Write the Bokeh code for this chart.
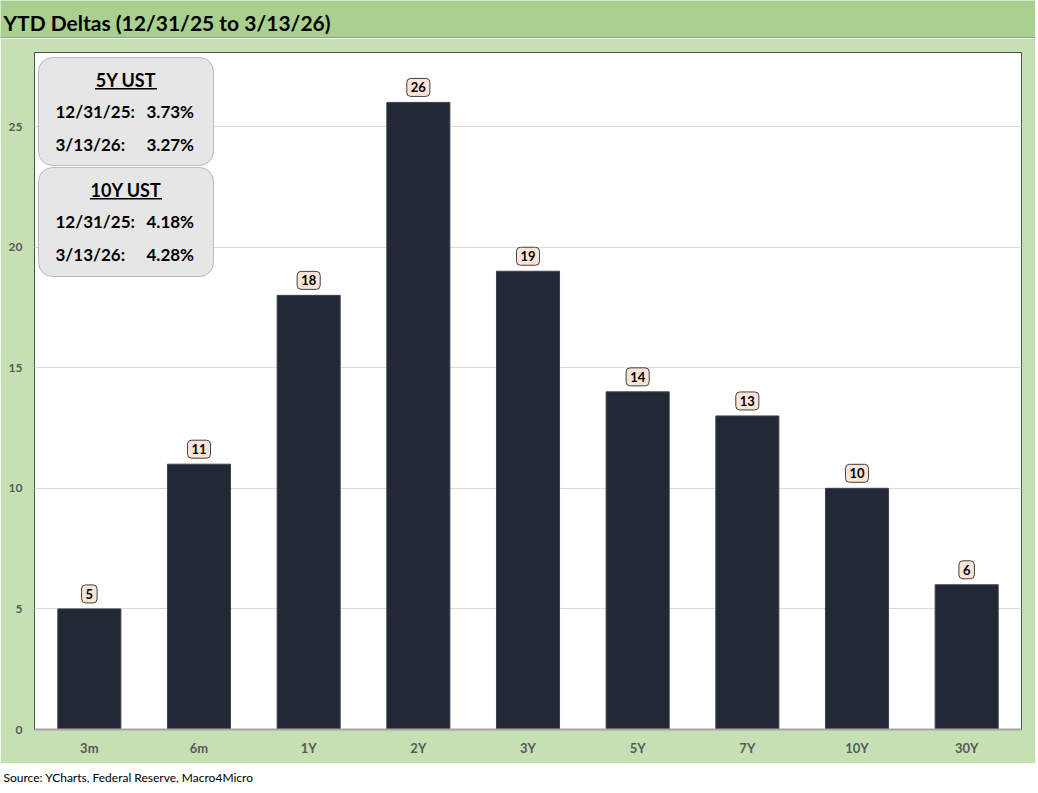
from bokeh.plotting import figure
from bokeh.models import (Range1d, FactorRange, Label, BoxAnnotation, ColumnDataSource,
                          FixedTicker)
from bokeh.layouts import column
from bokeh.embed import file_html
from bokeh.resources import INLINE

# ---- data ----
title_text = "YTD Deltas (12/31/25 to 3/13/26)"
source_text = "Source: YCharts, Federal Reserve, Macro4Micro"
categories = ["3m", "6m", "1Y", "2Y", "3Y", "5Y", "7Y", "10Y", "30Y"]
deltas = [5, 11, 18, 26, 19, 14, 13, 10, 6]
y_ticks = [0, 5, 10, 15, 20, 25]
info_titles = ["5Y UST", "10Y UST"]
info_dates = ["12/31/25:", "3/13/26:"]
info_5y = ["3.73%", "3.27%"]
info_10y = ["4.18%", "4.28%"]

FONT = "Lato"
W = 1035
FL, FR = 34, 1021          # frame left / right on the page
FW = FR - FL
DARK_GREEN = "#a9d08e"
LIGHT_GREEN = "#c6e0b4"
BAR = "#222834"


def band(height, fill):
    fig = figure(width=W, height=height, x_range=Range1d(0, W), y_range=Range1d(0, height),
                 output_backend="svg", toolbar_location=None, min_border=0,
                 x_axis_location=None, y_axis_location=None)
    fig.frame_align = False
    fig.grid.visible = False
    fig.outline_line_color = None
    fig.background_fill_color = fill
    fig.border_fill_color = fill
    return fig


# ---- title band ----
TH = 38
tf = band(TH, DARK_GREEN)
tf.add_layout(BoxAnnotation(left=0, right=W, bottom=0, top=1.5, fill_color="#8f9f88",
                            fill_alpha=1.0, line_color=None))
tf.add_layout(Label(x=3, y=16, text=title_text, text_font=FONT, text_font_style="bold",
                    text_font_size="21px", text_color="#000000", text_baseline="middle"))

# ---- main chart ----
Y_MAX = 28.07
p = figure(width=W, height=725, x_range=FactorRange(*categories, range_padding=0),
           y_range=Range1d(0, Y_MAX), output_backend="svg", toolbar_location=None,
           min_border_left=FL, min_border_right=W - FR, min_border_top=14,
           min_border_bottom=34)
p.border_fill_color = LIGHT_GREEN
p.background_fill_color = "white"
p.outline_line_color = "#505050"
p.xgrid.visible = False
p.ygrid.grid_line_color = "#dcdcdc"
p.yaxis.ticker = FixedTicker(ticks=y_ticks)
for ax in (p.xaxis, p.yaxis):
    ax.major_tick_out = 0
    ax.major_tick_in = 0
    ax.minor_tick_out = 0
    ax.minor_tick_in = 0
    ax.major_tick_line_color = None
    ax.minor_tick_line_color = None
    ax.major_label_text_font = FONT
    ax.major_label_text_font_style = "bold"
    ax.major_label_text_color = "#595959"
p.yaxis.axis_line_color = None
p.yaxis.major_label_text_font_size = "12px"
p.yaxis.major_label_standoff = 12
p.xaxis.axis_line_color = "#a6a6a6"
p.xaxis.axis_line_width = 2
p.xaxis.major_label_text_font_size = "13px"
p.xaxis.major_label_standoff = 10

src = ColumnDataSource(dict(cat=categories, val=deltas))
p.vbar(x="cat", top="val", width=0.575, source=src, fill_color=BAR, line_color="#3c424c",
       line_width=1)

for i, v in enumerate(deltas):
    p.add_layout(Label(x=i + 0.5, y=v, y_offset=15, text=str(v),
                       text_font=FONT, text_font_style="bold", text_font_size="13px",
                       text_align="center", text_baseline="middle", text_color="#000000",
                       background_fill_color="#fce4d6", border_line_color="#404040",
                       border_line_width=1, padding=4, border_radius=4))

# pixel -> data helpers for the overlay boxes (frame: x 34..1021, y 52..729 on page)
CAT_W = FW / len(categories)
PX_U = (729 - 52) / Y_MAX


def sx(px):
    return (px - FL) / CAT_W


def sy(py):
    return (729 - py) / PX_U


boxes = [(57, 165), (167, 276)]
values = [info_5y, info_10y]
for (top, bot), ttl, vals in zip(boxes, info_titles, values):
    p.add_layout(BoxAnnotation(left=sx(38), right=sx(213), top=sy(top), bottom=sy(bot),
                               fill_color="#e7e6e6", fill_alpha=1.0, line_color="#404040",
                               line_width=1, border_radius=14))
    ty = top + 22
    p.add_layout(Label(x=sx(125.5), y=sy(ty), text=ttl, text_font=FONT,
                       text_font_style="bold", text_font_size="18px", text_align="center",
                       text_baseline="middle", text_color="#000000"))
    half = 31 if ttl == "5Y UST" else 36
    p.add_layout(BoxAnnotation(left=sx(125.5 - half), right=sx(125.5 + half),
                               top=sy(ty + 8.5), bottom=sy(ty + 10),
                               fill_color="#000000", fill_alpha=1.0, line_color=None))
    for i, (d, val) in enumerate(zip(info_dates, vals)):
        yy = top + 54 + 33 * i
        p.add_layout(Label(x=sx(55), y=sy(yy), text=d, text_font=FONT, text_font_style="bold",
                           text_font_size="17px", text_baseline="middle", text_color="#000000"))
        p.add_layout(Label(x=sx(146), y=sy(yy), text=val, text_font=FONT,
                           text_font_style="bold", text_font_size="17px",
                           text_baseline="middle", text_color="#000000"))

# ---- source line ----
SH = 30
sf = band(SH, "white")
sf.add_layout(Label(x=3, y=SH - 14, text=source_text, text_font=FONT,
                    text_font_size="12px", text_baseline="middle", text_color="#000000"))

layout = column(tf, p, sf, spacing=0)
open("out.html", "w").write(file_html(layout, INLINE))
